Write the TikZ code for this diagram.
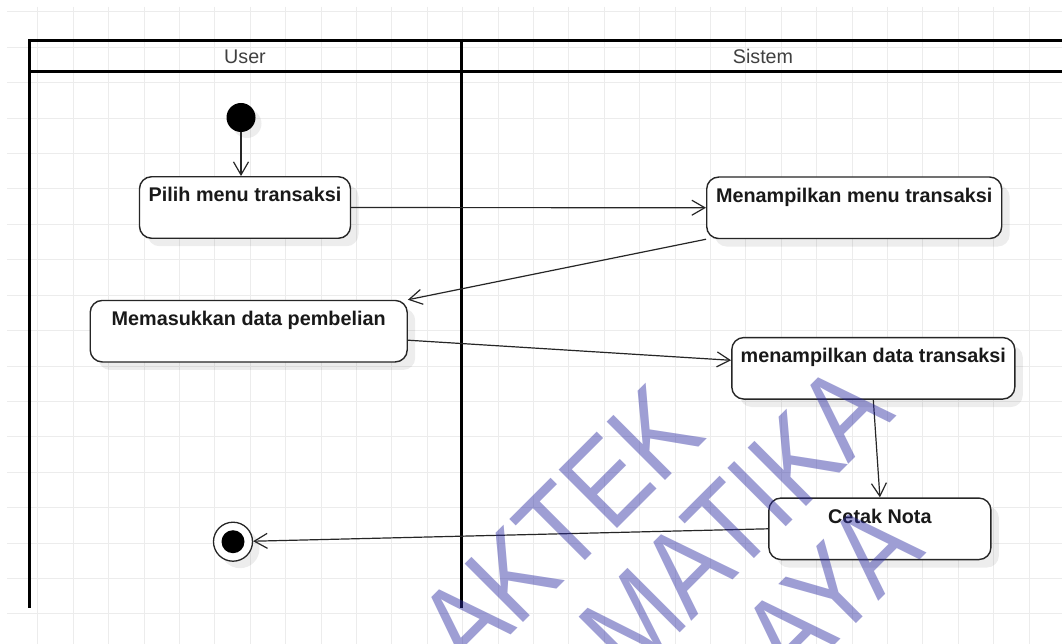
\documentclass[tikz,border=0pt]{standalone}
\usepackage{fontspec}
\setmainfont{Liberation Sans}
\usepackage{tikz}
\usetikzlibrary{arrows.meta,shadows}
\usepackage{xcolor}
\definecolor{gridgray}{RGB}{236,236,236}
\definecolor{boxline}{RGB}{38,38,38}
\definecolor{headgray}{RGB}{64,64,64}
\definecolor{wmblue}{RGB}{40,40,160}
\tikzstyle{activity} = [rectangle, rounded corners=12pt, draw=boxline, fill=white, line width=1.4pt, inner xsep=0pt, inner ysep=0pt, text height=25pt, text depth=36.5pt, text centered, text=black!90, font=\fontsize{19.8}{24}\selectfont\bfseries, drop shadow={shadow xshift=8pt, shadow yshift=-8pt, fill=black, opacity=0.07}]
\tikzstyle{startstate} = [circle, fill=black, minimum size=29pt, inner sep=0pt, drop shadow={shadow xshift=6pt, shadow yshift=-6pt, fill=black, opacity=0.07}]
\tikzstyle{endstate} = [circle, draw=boxline, line width=1.3pt, fill=white, minimum size=39pt, inner sep=0pt, path picture={\fill[black] (path picture bounding box.center) circle (11.5pt);}, drop shadow={shadow xshift=7pt, shadow yshift=-7pt, fill=black, opacity=0.07}]
\tikzstyle{lanehead} = [font=\fontsize{19.7}{24}\selectfont, text=headgray]
\tikzstyle{lane} = [line width=3pt, color=black]
\tikzstyle{gridline} = [color=gridgray, line width=1pt]
\tikzstyle{arrow} = [line width=1.2pt, -{Straight Barb[length=13pt,width=15pt]}, color=boxline]
\tikzstyle{watermark} = [anchor=base west, rotate=45, xscale=0.86, inner sep=0pt, font=\fontsize{120}{120}\selectfont, text=wmblue, text opacity=0.45]

\begin{document}
\begin{tikzpicture}[x=1pt, y=-1pt]
\useasboundingbox (0,0) rectangle (1062,644);
\clip (0,0) rectangle (1062,644);
\fill[white] (0,0) rectangle (1062,644);

% Background grid
\foreach \gx in {0,...,28} \draw[gridline] (37.9+35.4*\gx,7) -- (37.9+35.4*\gx,644);
\foreach \gy in {0,...,17} \draw[gridline] (7,12+35.4*\gy) -- (1062,12+35.4*\gy);

% Swimlanes
\draw[lane] (1070,41) -- (29,41) -- (29,608);
\draw[lane] (29,72) -- (1070,72);
\draw[lane] (461,41) -- (461,608);
\node (user) [lanehead] at (245,56.5) {User};
\node (sistem) [lanehead] at (763,56.5) {Sistem};

% Activity nodes
\node (pilih) [activity, minimum width=211pt] at (245,207.5) {Pilih menu transaksi};
\node (menu) [activity, minimum width=295pt] at (854.2,207.8) {Menampilkan menu transaksi};
\node (input) [activity, minimum width=317pt] at (248.7,331.2) {Memasukkan data pembelian};
\node (data) [activity, minimum width=283pt] at (873.3,368.3) {menampilkan data transaksi};
\node (cetak) [activity, minimum width=222pt] at (879.9,528.8) {Cetak Nota};

% Start and end
\node (start) [startstate] at (241,117.5) {};
\node (final) [endstate] at (233,541.7) {};

% Arrows
\draw[arrow] (start) -- (start |- pilih.north);
\draw[arrow] (pilih) -- (menu);
\draw[arrow] (menu.south west) -- (input.north east);
\draw[arrow] ([yshift=-9pt]input.east) -- ([yshift=8pt]data.west);
\draw[arrow] (data.south) -- (cetak.north);
\draw[arrow] (cetak.west) -- (final);

% Watermark
\node (wmtop) [watermark] at (469,677) {AKTEK};
\node (wmmid) [watermark] at (631,682) {MATIKA};
\node (wmlow) [watermark] at (792,688) {AYA};
\end{tikzpicture}
\end{document}
